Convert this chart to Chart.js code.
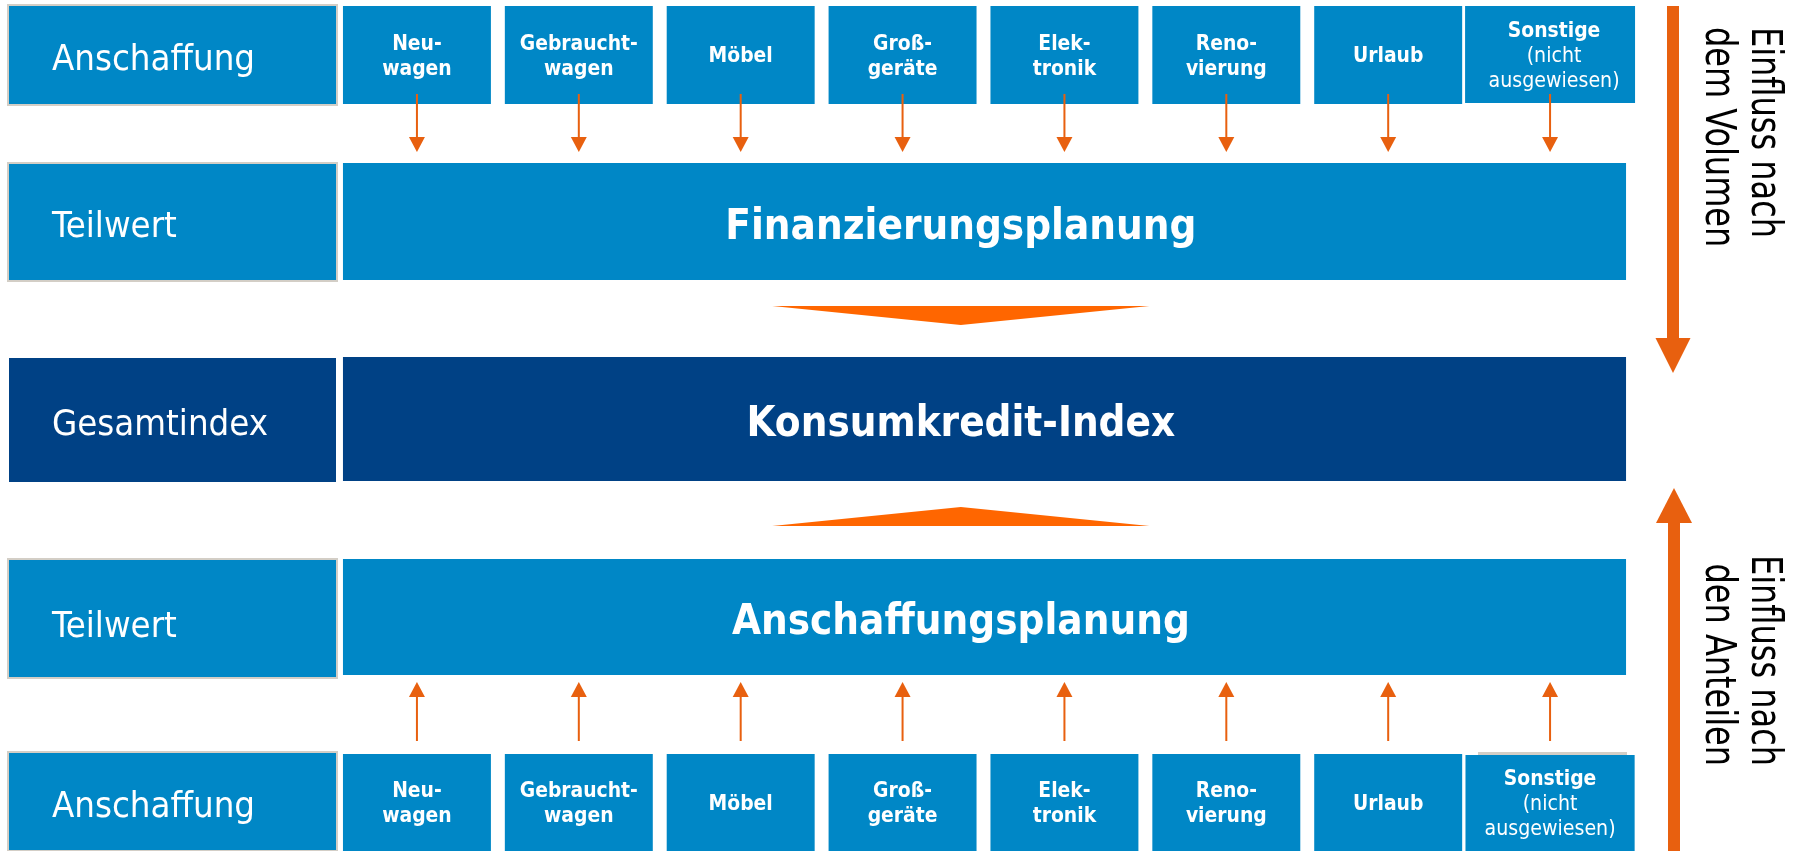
<!DOCTYPE html>
<html>
<head>
<meta charset="utf-8">
<script src="https://cdn.jsdelivr.net/npm/chart.js@4.4.1/dist/chart.umd.min.js"></script>
<style>
  html, body { margin: 0; padding: 0; background: #fff; overflow: hidden; }
  #wrap { width: 1798px; height: 851px; }
</style>
</head>
<body>
<div id="wrap"><canvas id="myChart"></canvas></div>
<script>
// content
const categories = [["Neu-", "wagen"], ["Gebraucht-", "wagen"], ["Möbel"], ["Groß-", "geräte"],
    ["Elek-", "tronik"], ["Reno-", "vierung"], ["Urlaub"], ["Sonstige", "(nicht", "ausgewiesen)"]];
const rowLabels = ["Anschaffung", "Teilwert", "Gesamtindex", "Teilwert", "Anschaffung"];
const rowTitles = ["", "Finanzierungsplanung", "Konsumkredit-Index", "Anschaffungsplanung", ""];
const flowLabels = [["Einfluss nach", "dem Volumen"], ["Einfluss nach", "den Anteilen"]];

// layout (y values on the reversed 0..851 axis, x in category units or page pixels)
const rowBands = [[6, 104], [163, 280], [357, 481], [559, 675], [754, 851]];
const labelBands = [[6, 104], [164, 280], [358, 482], [560, 677], [753, 850]];
const labelX = [9, 336];
const barPct = 0.914;
const midValue = 3.36;
const blue = "#0087c6", navy = "#004185", orange = "#e8600f", wedge = "#ff6600", grey = "#d3cec6";
const fam = "'DejaVu Sans Condensed', 'DejaVu Sans', sans-serif";

const lastIdx = categories.length - 1;
const band = (r, i) => (i < lastIdx ? rowBands[r] : null);

function drawText(ctx, text, x, y, font, align, squeeze) {
    ctx.save();
    ctx.font = font;
    ctx.textAlign = align;
    ctx.textBaseline = "alphabetic";
    ctx.translate(x, y);
    ctx.scale(squeeze, 1);
    ctx.fillText(text, 0, 0);
    ctx.restore();
}

function measure(ctx, font, text) {
    ctx.save();
    ctx.font = font;
    const w = ctx.measureText(text).width;
    ctx.restore();
    return w;
}

function arrow(ctx, x, from, to, headLen, headHalf, shaftHalf, color) {
    const dir = Math.sign(to - from);
    const base = to - dir * headLen;
    ctx.fillStyle = color;
    ctx.fillRect(x - shaftHalf, Math.min(from, base), shaftHalf * 2, Math.abs(base - from));
    ctx.beginPath();
    ctx.moveTo(x - headHalf, base);
    ctx.lineTo(x + headHalf, base);
    ctx.lineTo(x, to);
    ctx.closePath();
    ctx.fill();
}

const diagram = {
    id: "diagram",
    beforeDatasetsDraw(chart) {
        const { ctx, scales: { x, y } } = chart;
        const half = x.width / categories.length * barPct / 2;
        const left = x.getPixelForValue(0) - half;
        const right = x.getPixelForValue(lastIdx) + half + 2;

        // label column
        labelBands.forEach((b, r) => {
            const t = y.getPixelForValue(b[0]), btm = y.getPixelForValue(b[1]);
            if (r !== 2) {
                ctx.fillStyle = grey;
                ctx.fillRect(labelX[0] - 2, t - 2, labelX[1] - labelX[0] + 4, btm - t + 4);
            }
            ctx.fillStyle = r === 2 ? navy : blue;
            ctx.fillRect(labelX[0], t, labelX[1] - labelX[0], btm - t);
        });

        // wide boxes
        [1, 2, 3].forEach(r => {
            const t = y.getPixelForValue(rowBands[r][0]), btm = y.getPixelForValue(rowBands[r][1]);
            ctx.fillStyle = r === 2 ? navy : blue;
            ctx.fillRect(left, t, right - left, btm - t);
        });

        // flat wedges between the index and the two part values
        [[306, 325], [526, 507]].forEach(([yb, yt]) => {
            ctx.fillStyle = wedge;
            ctx.beginPath();
            ctx.moveTo(x.getPixelForValue(midValue - 1.165), y.getPixelForValue(yb));
            ctx.lineTo(x.getPixelForValue(midValue + 1.165), y.getPixelForValue(yb));
            ctx.lineTo(x.getPixelForValue(midValue), y.getPixelForValue(yt));
            ctx.closePath();
            ctx.fill();
        });

        // grey edge behind lower "Sonstige"
        ctx.fillStyle = grey;
        ctx.fillRect(1478, y.getPixelForValue(752), 149, 3);

        // big side arrows
        arrow(ctx, 1673, y.getPixelForValue(6), y.getPixelForValue(373), 35, 17.5, 6, orange);
        arrow(ctx, 1674, y.getPixelForValue(851), y.getPixelForValue(488), 35, 18, 6, orange);
    },
    afterDatasetsDraw(chart) {
        const { ctx, scales: { x, y } } = chart;
        const regSq = 203 / measure(ctx, "36px " + fam, "Anschaffung");
        const boldSq = 471 / measure(ctx, "bold 42px " + fam, "Finanzierungsplanung");
        const sideSq = 211 / measure(ctx, "42px " + fam, "Einfluss nach");

        ctx.fillStyle = "#fff";
        rowLabels.forEach((lab, r) => {
            const c = (y.getPixelForValue(labelBands[r][0]) + y.getPixelForValue(labelBands[r][1])) / 2;
            drawText(ctx, lab, 52, c + 15 + (r === 3 ? 3 : 0), "36px " + fam, "left", regSq);
        });
        rowTitles.forEach((t, r) => {
            if (!t) return;
            const c = (y.getPixelForValue(rowBands[r][0]) + y.getPixelForValue(rowBands[r][1])) / 2;
            ctx.fillStyle = "#fff";
            drawText(ctx, t, x.getPixelForValue(midValue), c + 17, "bold 42px " + fam, "center", boldSq);
        });

        // category texts, top and bottom row
        [0, 4].forEach(r => {
            const c = (y.getPixelForValue(rowBands[r][0]) + y.getPixelForValue(rowBands[r][1])) / 2;
            categories.forEach((lines, i) => {
                const cx = x.getPixelForValue(i) + (i === lastIdx && r === 0 ? 4 : 0);
                lines.forEach((ln, k) => {
                    const yy = c - (lines.length - 1) * 25 / 2 + k * 25 + 7;
                    const bold = k === 0 || lastIdx !== i;
                    ctx.fillStyle = "#fff";
                    drawText(ctx, ln, cx, yy, (bold ? "bold " : "") + "21px " + fam, "center", bold ? boldSq : regSq);
                });
            });
        });

        // thin arrows per category
        ctx.save();
        categories.forEach((c, i) => {
            const cx = x.getPixelForValue(i);
            arrow(ctx, cx, y.getPixelForValue(94), y.getPixelForValue(152), 15, 8, 1, orange);
            arrow(ctx, cx, y.getPixelForValue(741), y.getPixelForValue(682), 15, 8, 1, orange);
        });
        ctx.restore();

        // rotated side captions
        ctx.fillStyle = "#000";
        flowLabels.forEach((lines, g) => {
            lines.forEach((ln, k) => {
                ctx.save();
                ctx.font = "42px " + fam;
                ctx.textBaseline = "alphabetic";
                ctx.translate(1752 - k * 46, y.getPixelForValue(g === 0 ? 27 : 766));
                ctx.rotate(Math.PI / 2);
                ctx.scale(sideSq, 1);
                ctx.textAlign = g === 0 ? "left" : "right";
                ctx.fillText(ln, 0, 0);
                ctx.restore();
            });
        });
    }
};

const ctx = document.getElementById("myChart");

new Chart(ctx, {
    type: "bar",
    data: {
        labels: categories,
        datasets: [{
            label: "Anschaffung oben",
            data: categories.map((c, i) => band(0, i)),
            backgroundColor: blue,
            barPercentage: barPct,
        }, {
            label: "Sonstige oben",
            data: categories.map((c, i) => (i === lastIdx ? [6, 103] : null)),
            backgroundColor: blue,
            barPercentage: 1.05,
        }, {
            label: "Anschaffung unten",
            data: categories.map((c, i) => band(4, i)),
            backgroundColor: blue,
            barPercentage: barPct,
        }, {
            label: "Sonstige unten",
            data: categories.map((c, i) => (i === lastIdx ? [755, 851] : null)),
            backgroundColor: blue,
            barPercentage: 1.045,
        }, ],
    },
    options: {
        responsive: true,
        maintainAspectRatio: false,
        animation: false,
        datasets: {
            bar: {
                grouped: false,
                categoryPercentage: 1,
                borderWidth: 0,
                clip: false,
            },
        },
        layout: {
            padding: { left: 336, right: 167, top: 0, bottom: 0 },
        },
        scales: {
            x: { display: false },
            y: { display: false, min: 0, max: 851, reverse: true },
        },
        plugins: {
            legend: { display: false },
            tooltip: { enabled: false },
        },
    },
    plugins: [diagram],
});
</script>
</body>
</html>
